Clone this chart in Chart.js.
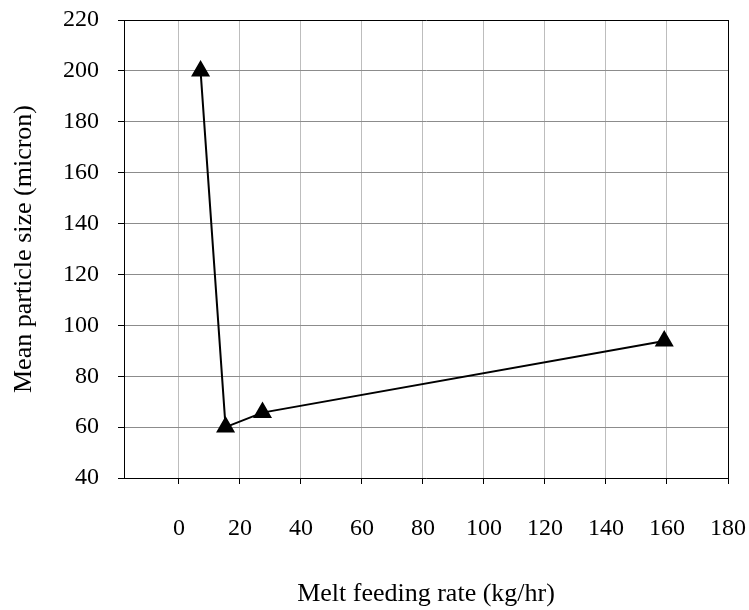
<!DOCTYPE html>
<html>
<head>
<meta charset="utf-8">
<script src="https://cdn.jsdelivr.net/npm/chart.js@4/dist/chart.umd.min.js"></script>
<style>
  html, body { margin: 0; padding: 0; background: #fff; }
  #wrap { width: 749px; height: 610px; }
</style>
</head>
<body>
<div id="wrap"><canvas id="myChart" width="749" height="610"></canvas></div>
<script>
// values
const feedRate = [7.1, 15.3, 27.4, 159.1];
const particleSize = [200, 60, 65.7, 93.8];
const xTicks = [0, 20, 40, 60, 80, 100, 120, 140, 160, 180];
const yTicks = [40, 60, 80, 100, 120, 140, 160, 180, 200, 220];

const serif = '"Liberation Serif", "Times New Roman", serif';
const tickFont = { family: serif, size: 24 };
const titleFont = { family: serif, size: 26 };

const points = feedRate.map((x, i) => ({ x: x, y: particleSize[i] }));

const ctx = document.getElementById('myChart');
new Chart(ctx, {
  type: 'scatter',
  data: {
    datasets: [{
      data: points,
      showLine: true,
      borderColor: '#000',
      borderWidth: 2,
      backgroundColor: '#000',
      pointStyle: 'triangle',
      pointRadius: 9,
      pointHoverRadius: 9
    }]
  },
  options: {
    responsive: false,
    animation: false,
    layout: { padding: { top: 20, right: 21, left: 0, bottom: 0 } },
    plugins: { legend: { display: false }, tooltip: { enabled: false } },
    scales: {
      x: {
        type: 'linear',
        min: -18,
        max: 180,
        afterBuildTicks: (scale) => { scale.ticks = xTicks.map(v => ({ value: v })); },
        afterFit: (scale) => {
          scale.height = 132;
          scale.paddingLeft = 0;
          scale.paddingRight = 0;
        },
        border: { color: '#000', width: 1 },
        grid: {
          color: (c) => c.tick && c.tick.value === 180 ? '#000' : '#bdbdbd',
          tickColor: '#000',
          tickLength: 6,
          lineWidth: 1
        },
        ticks: { color: '#000', font: tickFont, padding: 30, maxRotation: 0 },
        title: {
          display: true,
          text: 'Melt feeding rate (kg/hr)',
          color: '#000',
          font: titleFont,
          padding: { top: 10, bottom: 0 }
        }
      },
      y: {
        type: 'linear',
        min: 40,
        max: 220,
        afterBuildTicks: (scale) => { scale.ticks = yTicks.map(v => ({ value: v })); },
        afterFit: (scale) => {
          scale.width = 124;
          scale.paddingTop = 0;
          scale.paddingBottom = 0;
        },
        border: { color: '#000', width: 1 },
        grid: {
          color: (c) => c.tick && c.tick.value === 220 ? '#000' : '#8c8c8c',
          tickColor: '#000',
          tickLength: 6,
          lineWidth: 1
        },
        ticks: { color: '#000', font: tickFont, padding: 19 },
        title: {
          display: true,
          text: 'Mean particle size (micron)',
          color: '#000',
          font: titleFont,
          padding: { top: 9, bottom: 0 }
        }
      }
    }
  }
});
</script>
</body>
</html>
